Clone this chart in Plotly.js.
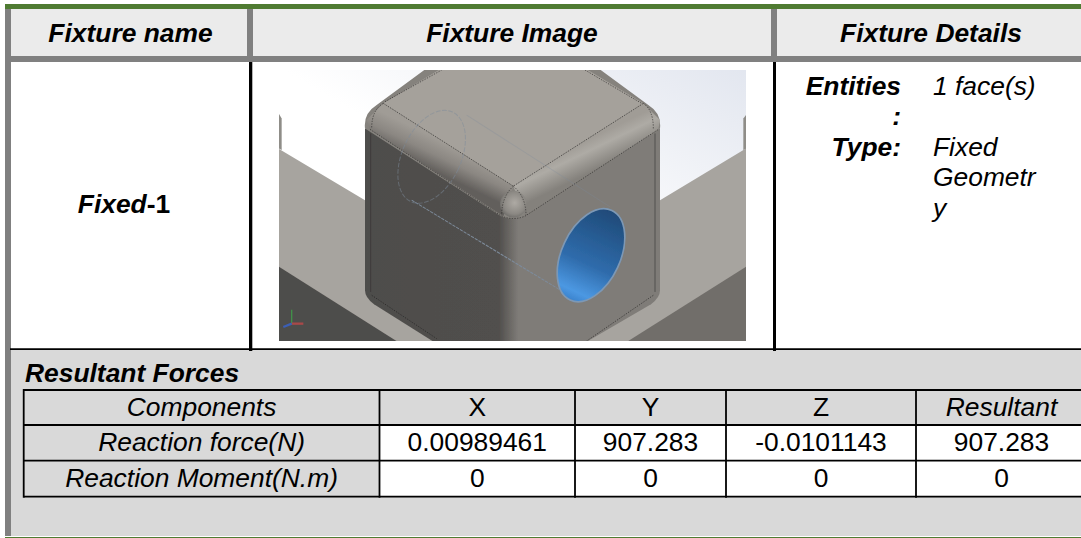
<!DOCTYPE html>
<html>
<head>
<meta charset="utf-8">
<script src="https://cdn.plot.ly/plotly-3.0.1.min.js"></script>
<style>html,body{margin:0;padding:0;background:#fff;overflow:hidden;width:1081px;height:538px}</style>
</head>
<body>
<div id="chart" style="width:1090px;height:538px"></div>
<script>
const headers = ['<b><i>Fixture name</i></b>', '<b><i>Fixture Image</i></b>', '<b><i>Fixture Details</i></b>'];
const fixtureName = '<b><i>Fixed</i>-1</b>';
const detailLabels = ['<b><i>Entities</i></b>', '<b><i>:</i></b>', '<b><i>Type:</i></b>'];
const detailValues = ['<i>1 face(s)</i>', '<i>Fixed</i>', '<i>Geometr</i>', '<i>y</i>'];
const sectionTitle = '<b><i>Resultant Forces</i></b>';
const components = ['<i>Components</i>', 'X', 'Y', 'Z', '<i>Resultant</i>'];
const reactionForce = ['<i>Reaction force(N)</i>', '0.00989461', '907.283', '-0.0101143', '907.283'];
const reactionMoment = ['<i>Reaction Moment(N.m)</i>', '0', '0', '0', '0'];

const W = 1090, H = 538;
const colEdges = [23.7, 379.5, 575, 726, 916, 1087];
const rowEdges = [390, 425, 460.7, 496.7];
const FS = 26.4;
const font = {family: '"Liberation Sans", Arial, sans-serif', size: FS, color: '#000'};

function rect(x0, y0, x1, y1, color, extra) {
  return Object.assign({type: 'rect', xref: 'x', yref: 'y', x0, y0, x1, y1, fillcolor: color, line: {width: 0}, layer: 'below'}, extra || {});
}
const shapes = [
  rect(5, 9, W, 350, '#ffffff'),
  rect(11, 350, W, 536, '#d9d9d9'),
  rect(5, 4, W, 9, '#4f7b32'),
  rect(5, 537, W, 538, '#4f7b32'),
  rect(5, 9, 11, 536, '#808080'),
  rect(11, 9, W, 56, '#ebebeb'),
  rect(11, 56, W, 62, '#808080'),
  rect(247, 9, 253, 56, '#808080'),
  rect(771, 9, 777, 56, '#808080'),
  rect(249, 62, 252.3, 351, '#000000'),
  rect(773, 62, 776, 351, '#000000'),
  rect(10, 348.3, W, 350, '#000000')
];
// inner table: white value cells, then the grid
for (let c = 1; c < 5; c++) shapes.push(rect(colEdges[c], rowEdges[1], colEdges[c + 1], rowEdges[3], '#ffffff'));
colEdges.forEach(x => shapes.push({type: 'line', xref: 'x', yref: 'y', x0: x, x1: x, y0: rowEdges[0] - 1, y1: rowEdges[3] + 1, line: {color: '#000', width: 1.8}, layer: 'below'}));
rowEdges.forEach(y => shapes.push({type: 'line', xref: 'x', yref: 'y', x0: colEdges[0], x1: colEdges[5], y0: y, y1: y, line: {color: '#000', width: 1.8}, layer: 'below'}));

const mid = a => a.slice(0, -1).map((v, i) => (v + a[i + 1]) / 2);
const colMid = mid(colEdges), rowMid = mid(rowEdges);

const cellX = [], cellY = [], cellT = [];
[components, reactionForce, reactionMoment].forEach((row, r) => row.forEach((t, c) => {
  cellX.push(colMid[c]); cellY.push(rowMid[r] + 1.5); cellT.push(t);
}));

function textTrace(x, y, text, pos) {
  return {type: 'scatter', mode: 'text', x, y, text, textposition: pos, textfont: font, cliponaxis: false, hoverinfo: 'skip', showlegend: false};
}
const traces = [
  textTrace([130.5, 512, 931], [35.5, 35.5, 35.5], headers, 'middle center'),
  textTrace([124], [206.5], [fixtureName], 'middle center'),
  textTrace([901, 901, 901], [88, 118, 149], detailLabels, 'middle left'),
  textTrace([933, 933, 933, 933], [88, 149, 179, 210], detailValues, 'middle right'),
  textTrace([25], [375.5], [sectionTitle], 'middle right'),
  textTrace(cellX, cellY, cellT, 'middle center')
];

const svg = `<svg xmlns="http://www.w3.org/2000/svg" width="1401" height="812" viewBox="27 30 1401 812">
<defs>
<linearGradient id="bg" x1="1" y1="0" x2="0.5" y2="0.5"><stop offset="0" stop-color="#e2e6ef"/><stop offset="1" stop-color="#ffffff"/></linearGradient>
<linearGradient id="body" gradientUnits="userSpaceOnUse" x1="285" y1="0" x2="1170" y2="0"><stop offset="0" stop-color="#4e4d4b"/><stop offset="0.455" stop-color="#514f4d"/><stop offset="0.52" stop-color="#7f7c78"/><stop offset="1" stop-color="#7f7c78"/></linearGradient>
<linearGradient id="lb" gradientUnits="userSpaceOnUse" x1="535" y1="252" x2="495" y2="335"><stop offset="0" stop-color="#a09c96"/><stop offset="0.5" stop-color="#8b8782"/><stop offset="1" stop-color="#625f5c"/></linearGradient>
<linearGradient id="rb" gradientUnits="userSpaceOnUse" x1="925" y1="252" x2="965" y2="335"><stop offset="0" stop-color="#a09c96"/><stop offset="0.35" stop-color="#aeaba5"/><stop offset="1" stop-color="#84817c"/></linearGradient>
<radialGradient id="ball" cx="0.55" cy="0.45" r="0.6"><stop offset="0" stop-color="#aeaaa4"/><stop offset="0.7" stop-color="#8b8883"/><stop offset="1" stop-color="#6a6865"/></radialGradient>
<linearGradient id="hole" x1="0.5" y1="0" x2="0.5" y2="1"><stop offset="0" stop-color="#1f4a78"/><stop offset="0.6" stop-color="#2f6cac"/><stop offset="0.9" stop-color="#4c98e2"/><stop offset="1" stop-color="#3a82cc"/></linearGradient>
<filter id="soft" x="-2%" y="-2%" width="104%" height="104%"><feGaussianBlur stdDeviation="1.6"/></filter>
</defs>
<g filter="url(#soft)">
<rect x="20" y="20" width="1420" height="830" fill="url(#bg)"/>
<polygon points="20,150 35,175 35,270 20,262" fill="#8f8d88"/>
<polygon points="1440,150 1420,175 1420,270 1440,262" fill="#8f8d88"/>
<polygon points="20,262 285,420 1170,420 1440,258 1440,850 20,850" fill="#a7a49f"/>
<polygon points="20,615 392,850 20,850" fill="#4e4d4b"/>
<polygon points="1440,612 1062,850 1440,850" fill="#716e6a"/>
<path d="M285,205 L285,690 Q285,712 312,732 L500,850 L940,850 L1143,732 Q1170,712 1170,690 L1170,205 Z" fill="url(#body)"/>
<path d="M285,205 Q280,160 320,135 L470,25 L985,25 L1135,135 Q1175,160 1170,205 L765,470 Q730,482 695,470 Z" fill="#85827d"/>
<polygon points="515,25 945,25 1120,130 730,378 340,130" fill="#a5a19b"/>
<polygon points="340,130 730,378 700,468 300,208 290,180" fill="url(#lb)"/>
<polygon points="1120,130 730,378 765,468 1165,208 1170,180" fill="url(#rb)"/>
<circle cx="730" cy="432" r="40" fill="url(#ball)"/>
<g stroke="#1c1b1a" stroke-width="2.5" stroke-dasharray="4 4" fill="none" opacity="0.7">
<path d="M345,125 L515,30 M945,30 L1115,130 M340,130 L730,378 L1120,130 M300,208 L695,468 Q730,482 765,468 L1165,208"/>
<path d="M305,705 L500,835 M1150,705 L950,842 M730,378 Q695,410 695,465 M730,378 Q768,410 768,465"/>
<path d="M340,130 Q305,150 305,205 M1120,130 Q1150,150 1150,205"/>
</g>
<path d="M302,220 L302,695 M1155,220 L1155,695" stroke="#2e2d2c" stroke-width="2.5" fill="none" opacity="0.65"/>
<g fill="none" stroke="#7d8b9b" stroke-width="3">
<line x1="425" y1="420" x2="880" y2="695" stroke-dasharray="10 3"/>
<line x1="590" y1="165" x2="1020" y2="440" opacity="0.3"/>
<ellipse cx="485" cy="290" rx="88" ry="148" transform="rotate(25 485 290)" stroke-dasharray="14 5" opacity="0.5"/>
</g>
<ellipse cx="963" cy="585" rx="88" ry="148" transform="rotate(25 963 585)" fill="url(#hole)" stroke="#7d98b5" stroke-width="5"/>
<path d="M65,790 L65,748" stroke="#3f8f4a" stroke-width="4"/>
<path d="M65,790 L100,790" stroke="#a84a48" stroke-width="7"/>
<path d="M65,790 L40,800" stroke="#3b5fb5" stroke-width="7"/>
</g>
</svg>`;

const layout = {
  width: W, height: H,
  margin: {l: 0, r: 0, t: 0, b: 0, pad: 0},
  paper_bgcolor: '#ffffff', plot_bgcolor: '#ffffff',
  showlegend: false,
  xaxis: {range: [0, W], visible: false, fixedrange: true},
  yaxis: {range: [H, 0], visible: false, fixedrange: true},
  shapes,
  images: [{
    source: 'data:image/svg+xml;charset=utf-8,' + encodeURIComponent(svg),
    xref: 'x', yref: 'y', x: 279, y: 70, sizex: 467, sizey: 271,
    xanchor: 'left', yanchor: 'top', sizing: 'stretch', layer: 'below'
  }]
};
Plotly.newPlot('chart', traces, layout, {displayModeBar: false, staticPlot: true});
</script>
</body>
</html>
